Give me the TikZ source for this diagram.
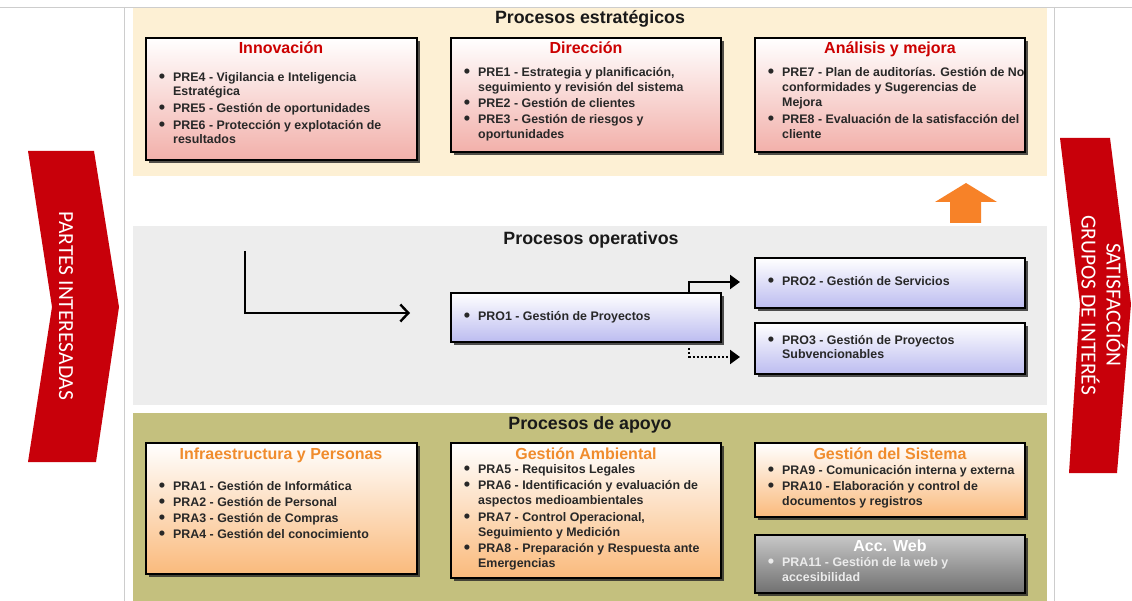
\documentclass[tikz,border=0pt]{standalone}
\usepackage{fontspec}
\setmainfont{Liberation Sans}
\newfontfamily\calib{Carlito}
\usetikzlibrary{shadows,arrows.meta,calc}
\definecolor{beigebg}{RGB}{253,240,212}
\definecolor{graybg}{RGB}{237,237,237}
\definecolor{olivebg}{RGB}{196,192,126}
\definecolor{redc}{RGB}{200,0,10}
\definecolor{redt}{RGB}{204,0,0}
\definecolor{oranget}{RGB}{240,140,45}
\definecolor{orangec}{RGB}{247,130,40}
\definecolor{pinkb}{RGB}{242,176,170}
\definecolor{lavb}{RGB}{188,188,240}
\definecolor{orab}{RGB}{250,186,124}
\definecolor{grayt}{RGB}{200,200,200}
\definecolor{grayb}{RGB}{112,112,112}
\definecolor{txtc}{RGB}{40,40,40}
\definecolor{titlec}{RGB}{25,25,25}
\definecolor{linec}{RGB}{205,205,205}
\newcommand{\bul}{\llap{\raisebox{-1.2pt}{\scalebox{1.45}{\textbullet}}\hspace{8pt}}}
\begin{document}
\begin{tikzpicture}[x=1pt,y=-1pt,
 panel/.style={anchor=north west, inner sep=0pt, outer sep=0pt, minimum width=914pt},
 ptitle/.style={anchor=base, inner sep=0pt, font=\bfseries\fontsize{17.8}{20}\selectfont, text=titlec},
 procbox/.style={anchor=north west, draw=black, line width=1.3pt, inner sep=0pt, outer sep=0pt,
   drop shadow={shadow xshift=3pt,shadow yshift=-3pt,fill=black!85,opacity=.8}},
 rbox/.style={procbox, top color=white, bottom color=pinkb},
 lbox/.style={procbox, top color=white, bottom color=lavb},
 obox/.style={procbox, top color=white, bottom color=orab},
 gbox/.style={procbox, top color=grayt, bottom color=grayb},
 btitle/.style={anchor=base, inner sep=0pt, font=\bfseries\fontsize{16}{18}\selectfont},
 itemlist/.style={anchor=base west, inner sep=0pt, font=\bfseries\fontsize{12.4}{15}\selectfont, text=txtc},
 chevtxt/.style={text=white, font=\calib\fontsize{21.5}{25}\selectfont, rotate=-90, align=center},
 sconn/.style={line width=2.2pt, -{Triangle[length=10pt,width=14pt]}},
 dconn/.style={sconn, dash pattern=on 2.2pt off 2pt},
 lconn/.style={line width=2.4pt, -{Straight Barb[length=8pt,width=17pt]}},
 sepline/.style={draw=linec, line width=0.8pt}
]
\useasboundingbox (0,0) rectangle (1132,601);
\fill[white] (0,0) rectangle (1132,601);

% separator lines
\draw[sepline] (0,7) -- (1132,7);
\draw[sepline] (124,7) -- (124,601);
\draw[sepline] (1054,7) -- (1054,601);

% panels
\node[panel, fill=beigebg, minimum height=168pt] (pest) at (133,8) {};
\node[panel, fill=graybg, minimum height=179pt] (pope) at (133,226) {};
\node[panel, fill=olivebg, minimum height=188pt] (papo) at (133,413) {};
\node[ptitle] (test) at (590,24) {Procesos estratégicos};
\node[ptitle] (tope) at (591,245) {Procesos operativos};
\node[ptitle] (tapo) at (590,429) {Procesos de apoyo};

% chevrons
\fill[redc] (28,151) -- (94,151) -- (119,307) -- (96,462) -- (28,462) -- (52,307) -- cycle;
\fill[redc] (1060,138) -- (1110,138) -- (1131,304) -- (1117,473) -- (1069,473) -- (1080,304) -- cycle;
\node[chevtxt] (partes) at (66,306) {PARTES INTERESADAS};
\node[chevtxt] (satis) at (1103,305) {SATISFACCIÓN\\GRUPOS DE INTERÉS};

% orange arrow
\fill[orangec] (966,183) -- (997,202) -- (981,202) -- (981,223) -- (950,223) -- (950,202) -- (935,202) -- cycle;

% strategic boxes
\node[rbox, minimum width=271pt, minimum height=122pt] (inn) at (146,38) {};
\node[rbox, minimum width=270pt, minimum height=114pt] (dir) at (451,38) {};
\node[rbox, minimum width=270pt, minimum height=114pt] (ana) at (755,38) {};
\node[btitle, text=redt] (innT) at (281,54) {Innovación};
\node[btitle, text=redt] (dirT) at (586,54) {Dirección};
\node[btitle, text=redt] (anaT) at (890,54) {Análisis y mejora};
\node[itemlist] (innL) at (173,81.5) {\begin{tabular}[t]{@{}l@{}}
\bul PRE4 - Vigilancia e Inteligencia\\[-1pt]
Estratégica\\[2pt]
\bul PRE5 - Gestión de oportunidades\\[2pt]
\bul PRE6 - Protección y explotación de\\[-1pt]
resultados\end{tabular}};
\node[itemlist] (dirL) at (478,76.5) {\begin{tabular}[t]{@{}l@{}}
\bul PRE1 - Estrategia y planificación,\\
seguimiento y revisión del sistema\\[1pt]
\bul PRE2 - Gestión de clientes\\[1pt]
\bul PRE3 - Gestión de riesgos y\\
oportunidades\end{tabular}};
\node[itemlist] (anaL) at (782,76.5) {\begin{tabular}[t]{@{}l@{}}
\bul PRE7 - Plan de auditorías. Gestión de No\\
conformidades y Sugerencias de\\
Mejora\\[2pt]
\bul PRE8 - Evaluación de la satisfacción del\\
cliente\end{tabular}};

% operative
\node[lbox, minimum width=270pt, minimum height=49pt] (pro1) at (451,293) {};
\node[lbox, minimum width=270pt, minimum height=50pt] (pro2) at (755,258) {};
\node[lbox, minimum width=270pt, minimum height=51pt] (pro3) at (755,323) {};
\node[itemlist] (pro1L) at (478,320.5) {\begin{tabular}[t]{@{}l@{}}\bul PRO1 - Gestión de Proyectos\end{tabular}};
\node[itemlist] (pro2L) at (782,285.5) {\begin{tabular}[t]{@{}l@{}}\bul PRO2 - Gestión de Servicios\end{tabular}};
\node[itemlist] (pro3L) at (782,344.5) {\begin{tabular}[t]{@{}l@{}}\bul PRO3 - Gestión de Proyectos\\[-1pt]
Subvencionables\end{tabular}};

\coordinate (lstart) at (245,251);
\coordinate (lend) at (410,313);
\draw[lconn] (lstart) |- (lend);
\draw[sconn] ([xshift=-32pt]pro1.north east) |- ([xshift=-15pt,yshift=1pt]pro2.west);
\draw[dconn] ([xshift=-32pt,yshift=-6pt]pro1.south east) |- ([xshift=-15pt,yshift=-8.5pt]pro3.west);

% support
\node[obox, minimum width=271pt, minimum height=131pt] (inf) at (146,443) {};
\node[obox, minimum width=270pt, minimum height=135pt] (amb) at (451,443) {};
\node[obox, minimum width=270pt, minimum height=74pt] (sis) at (755,443) {};
\node[gbox, minimum width=270pt, minimum height=58pt] (web) at (755,535) {};
\node[btitle, text=oranget] (infT) at (281,459) {Infraestructura y Personas};
\node[btitle, text=oranget] (ambT) at (586,459) {Gestión Ambiental};
\node[btitle, text=oranget] (sisT) at (890,459) {Gestión del Sistema};
\node[btitle, text=white] (webT) at (890,551) {Acc. Web};
\node[itemlist] (infL) at (173,490.5) {\begin{tabular}[t]{@{}l@{}}
\bul PRA1 - Gestión de Informática\\[1pt]
\bul PRA2 - Gestión de Personal\\[1pt]
\bul PRA3 - Gestión de Compras\\[1pt]
\bul PRA4 - Gestión del conocimiento\end{tabular}};
\node[itemlist] (ambL) at (478,473.5) {\begin{tabular}[t]{@{}l@{}}
\bul PRA5 - Requisitos Legales\\[1pt]
\bul PRA6 - Identificación y evaluación de\\
aspectos medioambientales\\[2pt]
\bul PRA7 - Control Operacional,\\
Seguimiento y Medición\\[1pt]
\bul PRA8 - Preparación y Respuesta ante\\
Emergencias\end{tabular}};
\node[itemlist] (sisL) at (782,474.5) {\begin{tabular}[t]{@{}l@{}}
\bul PRA9 - Comunicación interna y externa\\[1pt]
\bul PRA10 - Elaboración y control de\\
documentos y registros\end{tabular}};
\node[itemlist, text=white!92!black] (webL) at (782,566.5) {\begin{tabular}[t]{@{}l@{}}
\bul PRA11 - Gestión de la web y\\
accesibilidad\end{tabular}};
\end{tikzpicture}
\end{document}
